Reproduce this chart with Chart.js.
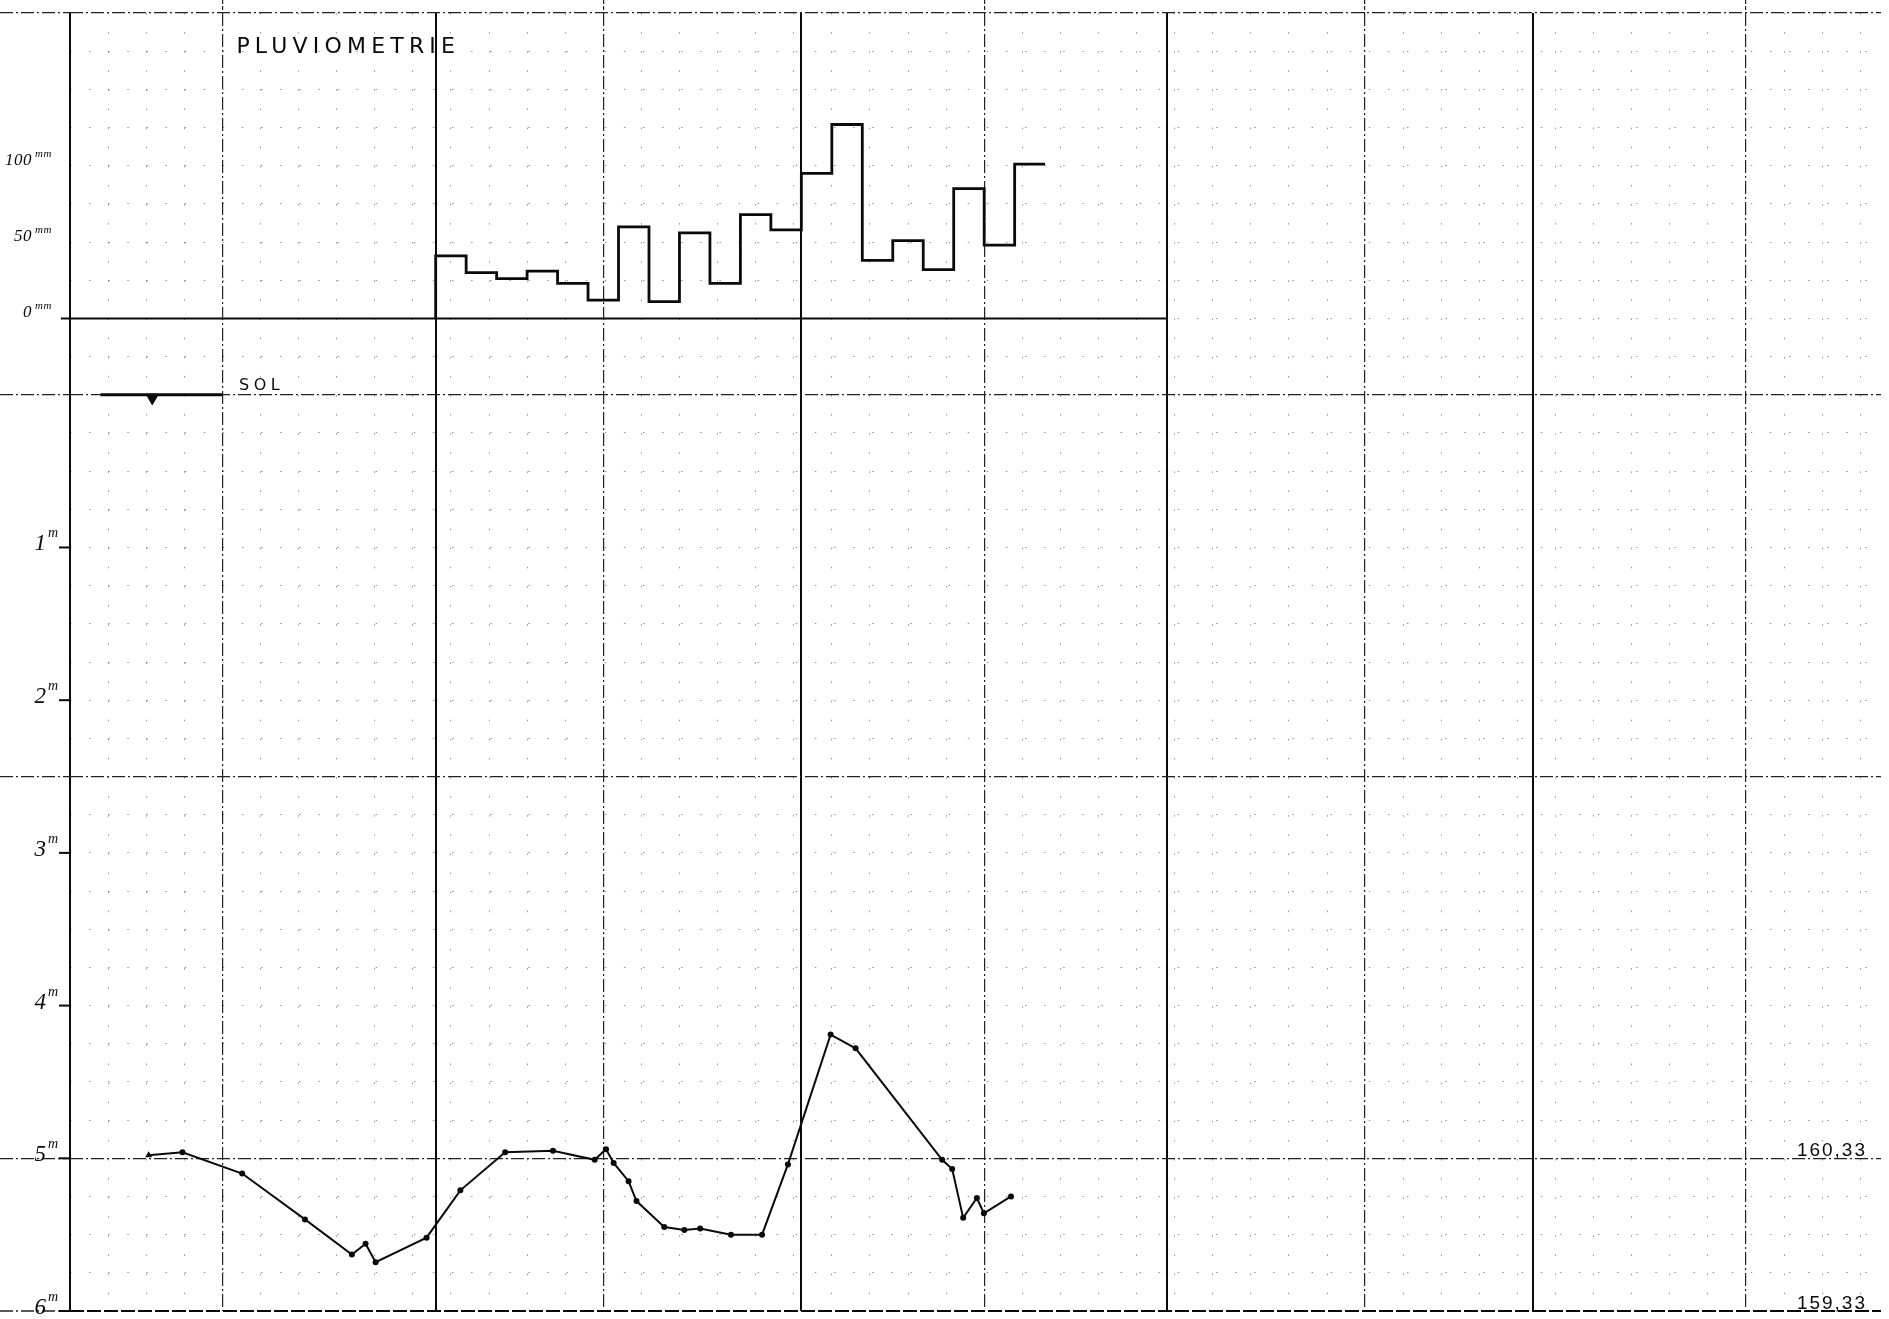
<!DOCTYPE html>
<html>
<head>
<meta charset="utf-8">
<title>Pluviométrie et niveau de la nappe</title>
<script src="https://cdn.jsdelivr.net/npm/chart.js@4/dist/chart.umd.min.js"></script>
<style>
  html, body { margin: 0; padding: 0; background: #fff; }
  #sheet { display: block; }
</style>
</head>
<body>
<canvas id="sheet" width="1889" height="1319"></canvas>
<script>
// ---- Rainfall: one total per ten-day period (mm) ----
const rainFirstDay = 120;
const rainStepDays = 10;
const rainMm = [41, 30, 26, 31, 23, 12, 60, 11, 56, 23, 68, 58, 95, 127, 38, 51, 32, 85, 48, 101];
const rainBaselineDays = [-3, 360];

// ---- Water level below ground (m) ----
const levelDays  = [25.8, 36.9, 56.5, 77.1, 92.5, 97.0, 100.3, 117.0, 128.1, 142.8, 158.5, 172.2, 175.9, 178.4, 183.3,
                    185.9, 195.0, 201.6, 206.8, 216.9, 227.1, 235.6, 249.6, 257.8, 286.2, 289.5, 293.1, 297.6, 299.9, 308.8];
const levelDepth = [4.98, 4.96, 5.10, 5.40, 5.63, 5.56, 5.68, 5.52, 5.21, 4.96, 4.95, 5.01, 4.94, 5.03, 5.15,
                    5.28, 5.45, 5.47, 5.46, 5.50, 5.50, 5.04, 4.19, 4.28, 5.01, 5.07, 5.39, 5.26, 5.36, 5.25];

// ---- Ground reference ----
const groundLineDays = [10, 50];
const waterMarkDay = 27;
const groundAltitude = 165.33;

// ---- Tick labels ----
const depthTickLabels = [1, 2, 3, 4, 5, 6];
const rainTickLabels = [0, 50, 100];
const altitudeTickLabels = [160.33, 159.33];

// ---- Sheet ruling ----
const DAY_MAX = 594.3;
const DAY_CELL = 12.5;
const PAPER_MAJOR_DAY0 = 50, PAPER_MAJOR_STEP = 125;
const PERIOD_STEP = 120;
const DEPTH_MIN = -2.5, DEPTH_MAX = 6, DEPTH_CELL = 0.25, DEPTH_MAJOR = 2.5;
const RAIN_ZERO_DEPTH = -0.5, RAIN_MM_PER_M = 100;

const isMultiple = (v, step, origin = 0) => {
  const r = (v - origin) / step;
  return Math.abs(r - Math.round(r)) < 1e-6;
};

// day ticks: every paper cell plus the heavy period lines
const dayTicks = (() => {
  const s = new Set();
  for (let k = 0; k * DAY_CELL <= DAY_MAX; k++) s.add(+(k * DAY_CELL).toFixed(4));
  for (let k = 0; k * PERIOD_STEP <= DAY_MAX; k++) s.add(k * PERIOD_STEP);
  return [...s].sort((a, b) => a - b);
})();
const depthTicks = (() => {
  const out = [];
  const n = Math.round((DEPTH_MAX - DEPTH_MIN) / DEPTH_CELL);
  for (let k = 0; k <= n; k++) out.push(+(DEPTH_MIN + k * DEPTH_CELL).toFixed(4));
  return out;
})();

const PAPER_DASH = [13, 3, 2, 3];
const MINOR_DASH = [1.5, 17.6];
const INK = '#0a0a0a';
const PAPER_INK = '#222';
const MINOR_INK = 'rgba(0,0,0,0.42)';

const dayKind = v => isMultiple(v, PERIOD_STEP) ? 'period'
                 : isMultiple(v, PAPER_MAJOR_STEP, PAPER_MAJOR_DAY0) ? 'paper' : 'minor';
const depthKind = v => v === DEPTH_MAX ? 'frame'
                 : isMultiple(v, DEPTH_MAJOR) ? 'paper' : 'minor';

// rain step outline built from the ten-day totals
const rainPoints = [{ x: rainFirstDay, y: 0 }];
rainMm.forEach((v, i) => rainPoints.push({ x: rainFirstDay + i * rainStepDays, y: v }));
rainPoints.push({ x: rainFirstDay + rainMm.length * rainStepDays, y: rainMm[rainMm.length - 1] });

const levelPoints = levelDays.map((d, i) => ({ x: d, y: levelDepth[i] }));

function drawSpaced(ctx, text, x, y, font, spacing, align) {
  ctx.font = font;
  ctx.textAlign = align || 'left';
  ctx.textBaseline = 'alphabetic';
  if ('letterSpacing' in ctx) {
    ctx.letterSpacing = spacing + 'px';
    ctx.fillText(text, x, y);
    ctx.letterSpacing = '0px';
  } else {
    ctx.fillText(text, x, y);
  }
}

const sheetLabels = {
  id: 'sheetLabels',
  afterDraw(chart) {
    const { ctx, chartArea, scales } = chart;
    const x = scales.x, yd = scales.y, yr = scales.yRain;
    const left = chartArea.left;
    ctx.save();
    ctx.fillStyle = INK;
    ctx.strokeStyle = INK;

    // heading of the rainfall panel
    drawSpaced(ctx, 'PLUVIOMETRIE', x.getPixelForValue(54.6), yr.getPixelForValue(174),
      '22px "DejaVu Sans"', 5.2);
    // ground level caption
    drawSpaced(ctx, 'SOL', x.getPixelForValue(55.5), yd.getPixelForValue(-0.03),
      '16px "DejaVu Sans"', 4.5);

    // rainfall scale (mm)
    rainTickLabels.forEach(v => {
      const py = yr.getPixelForValue(v);
      drawSpaced(ctx, String(v), left - 38, py - 1, 'italic 17px "Liberation Serif"', 0.5, 'right');
      drawSpaced(ctx, 'mm', left - 35, py - 9, 'italic 11px "Liberation Serif"', 0.5, 'left');
    });

    // depth scale (m below ground)
    ctx.lineWidth = 2;
    depthTickLabels.forEach(v => {
      const py = yd.getPixelForValue(v);
      drawSpaced(ctx, String(v), left - 24, py + 3, 'italic 23px "Liberation Serif"', 0, 'right');
      drawSpaced(ctx, 'm', left - 22, py - 10, 'italic 14px "Liberation Serif"', 0, 'left');
      ctx.beginPath();
      ctx.moveTo(left - 11, py);
      ctx.lineTo(left, py);
      ctx.stroke();
    });

    // altitudes of the depth lines
    altitudeTickLabels.forEach(a => {
      const py = yd.getPixelForValue(groundAltitude - a);
      drawSpaced(ctx, a.toFixed(2).replace('.', ','), chartArea.right - 14, py - 2,
        '19px "Liberation Sans"', 2, 'right');
    });
    ctx.restore();
  }
};

new Chart(document.getElementById('sheet'), {
  type: 'line',
  data: {
    datasets: [
      {
        label: 'Pluviométrie',
        data: rainPoints,
        yAxisID: 'yRain',
        stepped: 'before',
        borderColor: INK,
        borderWidth: 2.8,
        pointRadius: 0,
        fill: false
      },
      {
        label: '0 mm',
        data: rainBaselineDays.map(d => ({ x: d, y: 0 })),
        yAxisID: 'yRain',
        borderColor: INK,
        borderWidth: 2,
        pointRadius: 0,
        clip: false
      },
      {
        label: 'Sol',
        data: groundLineDays.map(d => ({ x: d, y: 0 })),
        yAxisID: 'y',
        borderColor: INK,
        borderWidth: 3,
        pointRadius: 0
      },
      {
        label: 'Repère',
        data: [{ x: waterMarkDay, y: 0.02 }],
        yAxisID: 'y',
        showLine: false,
        pointStyle: 'triangle',
        rotation: 180,
        pointRadius: 7,
        pointBackgroundColor: INK,
        pointBorderColor: INK,
        pointBorderWidth: 1
      },
      {
        label: 'Niveau de la nappe',
        data: levelPoints,
        yAxisID: 'y',
        borderColor: INK,
        borderWidth: 2,
        pointRadius: levelPoints.map((p, i) => i === 0 ? 4 : 3),
        pointStyle: levelPoints.map((p, i) => i === 0 ? 'triangle' : 'circle'),
        pointBackgroundColor: INK,
        pointBorderWidth: 0,
        tension: 0
      }
    ]
  },
  options: {
    responsive: false,
    maintainAspectRatio: false,
    devicePixelRatio: 1,
    animation: false,
    events: [],
    layout: { padding: { left: 0, right: 0, top: 0, bottom: 4 } },
    plugins: { legend: { display: false }, tooltip: { enabled: false }, title: { display: false } },
    scales: {
      x: {
        type: 'linear',
        position: 'top',
        min: 0,
        max: DAY_MAX,
        bounds: 'data',
        afterBuildTicks: s => { s.ticks = dayTicks.map(v => ({ value: v })); },
        ticks: { display: false },
        border: {
          display: false,
          dash: c => { const k = dayKind(c.tick.value); return k === 'period' ? [] : k === 'paper' ? PAPER_DASH : MINOR_DASH; }
        },
        grid: {
          drawTicks: true,
          tickLength: 13,
          color: c => { const k = dayKind(c.tick.value); return k === 'minor' ? MINOR_INK : k === 'paper' ? PAPER_INK : INK; },
          lineWidth: c => { const k = dayKind(c.tick.value); return k === 'period' ? 2 : k === 'paper' ? 1.2 : 1; },
          tickColor: c => dayKind(c.tick.value) === 'paper' ? PAPER_INK : 'rgba(0,0,0,0)',
          tickWidth: 1.2,
          tickBorderDash: [4, 2]
        }
      },
      y: {
        type: 'linear',
        position: 'left',
        reverse: true,
        min: DEPTH_MIN,
        max: DEPTH_MAX,
        bounds: 'data',
        afterBuildTicks: s => { s.ticks = depthTicks.map(v => ({ value: v })); },
        ticks: { display: false },
        border: {
          display: false,
          dash: c => { const k = depthKind(c.tick.value); return k === 'frame' ? [14, 3] : k === 'paper' ? PAPER_DASH : MINOR_DASH; }
        },
        grid: {
          drawTicks: true,
          tickLength: 70,
          color: c => { const k = depthKind(c.tick.value); return k === 'minor' ? MINOR_INK : k === 'paper' ? PAPER_INK : INK; },
          lineWidth: c => { const k = depthKind(c.tick.value); return k === 'frame' ? 2 : k === 'paper' ? 1.3 : 1; },
          tickColor: c => depthKind(c.tick.value) === 'minor' ? 'rgba(0,0,0,0)' : PAPER_INK,
          tickWidth: 1.3,
          tickBorderDash: PAPER_DASH
        }
      },
      yRain: {
        type: 'linear',
        display: false,
        min: (RAIN_ZERO_DEPTH - DEPTH_MAX) * RAIN_MM_PER_M,
        max: (RAIN_ZERO_DEPTH - DEPTH_MIN) * RAIN_MM_PER_M,
        bounds: 'data'
      }
    }
  },
  plugins: [sheetLabels]
});
</script>
</body>
</html>
